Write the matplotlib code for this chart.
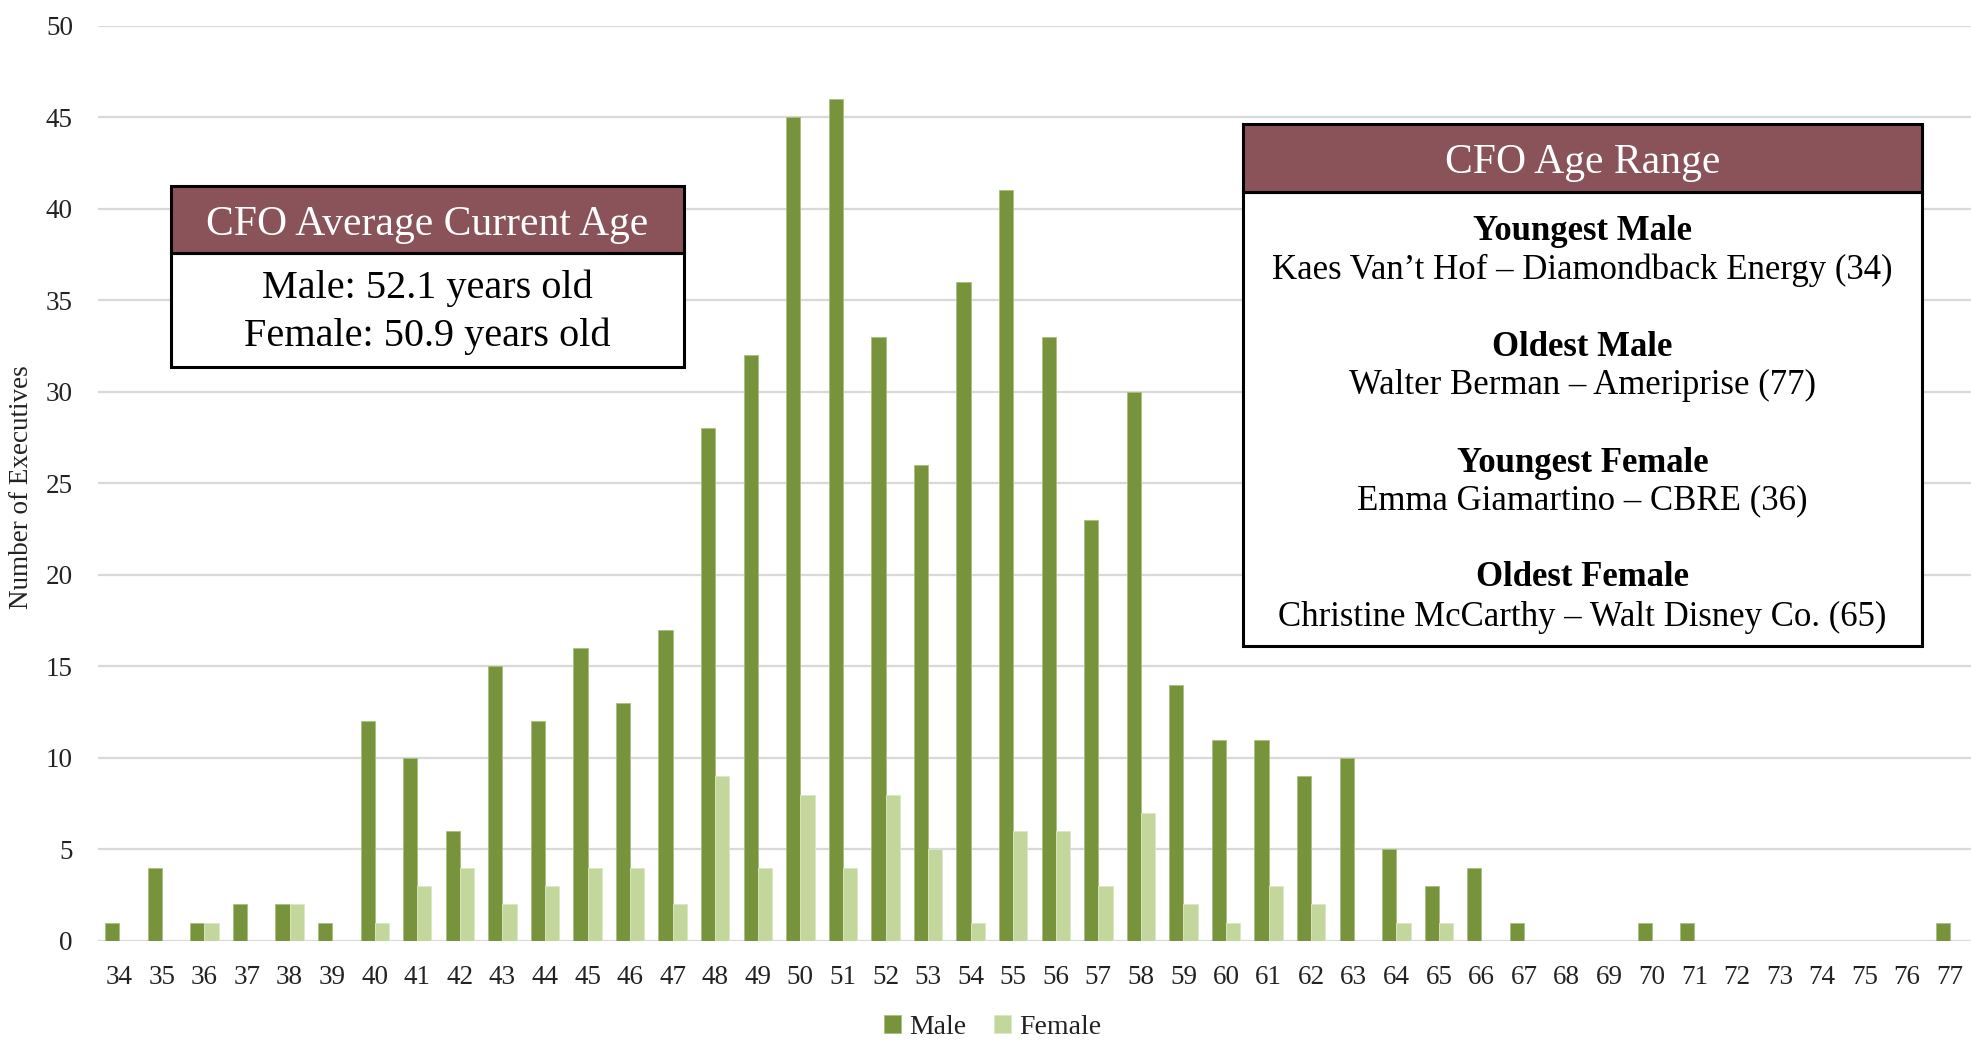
import matplotlib
matplotlib.use("Agg")
import matplotlib.pyplot as plt
from matplotlib.patches import Rectangle
import numpy as np

plt.rcParams['font.family'] = ['Liberation Serif', 'DejaVu Serif']

ages = list(range(34, 78))
male = [1, 4, 1, 2, 2, 1, 12, 10, 6, 15, 12, 16, 13, 17, 28, 32, 45, 46, 33, 26, 36, 41,
        33, 23, 30, 14, 11, 11, 9, 10, 5, 3, 4, 1, 0, 0, 1, 1, 0, 0, 0, 0, 0, 1]
female = [0, 0, 1, 0, 2, 0, 1, 3, 4, 2, 3, 4, 4, 2, 9, 4, 8, 4, 8, 5, 1, 6,
          6, 3, 7, 2, 1, 3, 2, 0, 1, 1, 0, 0, 0, 0, 0, 0, 0, 0, 0, 0, 0, 0]
yticks = [0, 5, 10, 15, 20, 25, 30, 35, 40, 45, 50]

avg_title = "CFO Average Current Age"
avg_lines = ["Male: 52.1 years old", "Female: 50.9 years old"]
range_title = "CFO Age Range"
range_items = [
    ("Youngest Male", "Kaes Van\u2019t Hof \u2013 Diamondback Energy (34)"),
    ("Oldest Male", "Walter Berman \u2013 Ameriprise (77)"),
    ("Youngest Female", "Emma Giamartino \u2013 CBRE (36)"),
    ("Oldest Female", "Christine McCarthy \u2013 Walt Disney Co. (65)"),
]

MALE_C = "#77933C"
FEMALE_C = "#C3D69B"
HEAD_C = "#8A535A"
GRID_C = "#D9D9D9"

W, H = 1971, 1043
fig = plt.figure(figsize=(W / 100, H / 100), dpi=100)

def fx(px):
    return px / W

def fy(py):
    return 1 - py / H

ax = fig.add_axes([fx(98), fy(941), fx(1971) - fx(98), fy(25.7) - fy(941)])

x = np.arange(len(ages))
bw = 1 / 3
ax.bar(x - bw / 2, male, width=bw, color=MALE_C, edgecolor="#A9BF7E", linewidth=0.6,
       label="Male", zorder=3)
ax.bar(x + bw / 2, female, width=bw, color=FEMALE_C, edgecolor="#DCE7C4", linewidth=0.6,
       label="Female", zorder=3)

ax.set_xlim(-0.5, len(ages) - 0.5)
ax.set_ylim(0, 50)
ax.set_yticks(yticks)
ax.set_xticks(x)
ax.set_xticklabels([str(a) for a in ages])
ax.grid(axis="y", color=GRID_C, linewidth=1.6, zorder=0)
ax.set_axisbelow(True)
for s in ax.spines.values():
    s.set_visible(False)
ax.tick_params(axis="y", length=0, pad=18, labelsize=19.5, labelcolor="#222222")
ax.tick_params(axis="x", length=0, pad=17.5, labelsize=19.5, labelcolor="#222222")

ax.set_ylabel("Number of Executives", fontsize=19.5, color="#222222")
ax.yaxis.label.set_ha("center")
ax.yaxis.label.set_va("center")
ax.yaxis.set_label_coords((22 - 98) / (1971 - 98), (941 - 487) / (941 - 25.7))

leg = fig.legend(loc="center", bbox_to_anchor=(fx(993), fy(1027)), ncol=2, frameon=False,
                 fontsize=20, handlelength=0.6, handleheight=0.6, handletextpad=0.3,
                 columnspacing=1.0, borderpad=0)
for t in leg.get_texts():
    t.set_color("#222222")

def add_box(left, top, right, head_bottom, bottom):
    body = Rectangle((fx(left), fy(bottom)), fx(right) - fx(left), fy(head_bottom) - fy(bottom),
                     transform=fig.transFigure, facecolor="white", edgecolor="black",
                     linewidth=2.2, zorder=10)
    head = Rectangle((fx(left), fy(head_bottom)), fx(right) - fx(left), fy(top) - fy(head_bottom),
                     transform=fig.transFigure, facecolor=HEAD_C, edgecolor="black",
                     linewidth=2.2, zorder=11)
    fig.add_artist(body)
    fig.add_artist(head)

dy = 4  # vertical text offset (px)

# Box 1
add_box(171, 186, 684, 253, 367)
cx1 = (171 + 684) / 2
fig.text(fx(cx1), fy(221 + dy), avg_title, ha="center", va="center", fontsize=30, color="white", zorder=12)
fig.text(fx(cx1), fy(284 + dy), avg_lines[0], ha="center", va="center", fontsize=29, color="black", zorder=12)
fig.text(fx(cx1), fy(332 + dy), avg_lines[1], ha="center", va="center", fontsize=29, color="black", zorder=12)

# Box 2
add_box(1243, 124, 1922, 192, 646)
cx2 = (1243 + 1922) / 2
fig.text(fx(cx2), fy(158 + dy + 1), range_title, ha="center", va="center", fontsize=30, color="white", zorder=12)
head_y = [228, 343, 459, 573]
body_y = [266, 381, 497, 613]
for (hd, bd), hy, by in zip(range_items, head_y, body_y):
    fig.text(fx(cx2), fy(hy + dy), hd, ha="center", va="center", fontsize=25, fontweight="bold",
             color="black", zorder=12)
    fig.text(fx(cx2), fy(by + dy), bd, ha="center", va="center", fontsize=25, color="black", zorder=12)

fig.savefig("out.png", dpi=100)
